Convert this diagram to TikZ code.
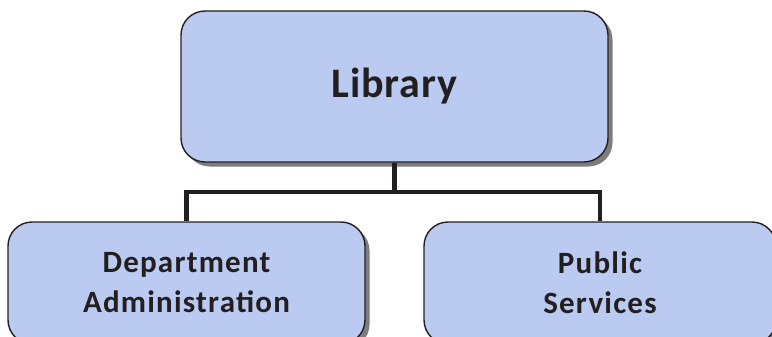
\documentclass[tikz,border=0pt]{standalone}
\usepackage{fontspec}
\setmainfont{Carlito}
\usepackage{xcolor}
\usetikzlibrary{positioning, shadows}

\definecolor{boxblue}{RGB}{186,202,240}
\definecolor{inkdark}{RGB}{35,31,32}
\definecolor{shadowgray}{RGB}{125,125,125}

\begin{document}
\begin{tikzpicture}[x=1pt, y=-1pt,
    orgbox/.style={draw=inkdark, line width=1.4pt, fill=boxblue, rounded corners=24pt,
        align=center, text=inkdark,
        drop shadow={shadow xshift=4.5pt, shadow yshift=-4.5pt, fill=shadowgray, opacity=1}},
    toptext/.style={font=\fontsize{42}{50}\selectfont\bfseries\addfontfeature{LetterSpace=2}},
    subtext/.style={font=\fontsize{31}{40}\selectfont\bfseries\addfontfeature{LetterSpace=4}},
    branch/.style={draw=inkdark, line width=4.5pt}]

\clip (0,0) rectangle (772,337);

% Top of the chart
\node[orgbox, toptext, minimum width=427pt, minimum height=151pt] (lib) at (394.5,86.5) {Library};

% Two departments
\node[orgbox, subtext, minimum width=357pt, minimum height=122pt] (dept) at (186.5,283) {Department\\Administration};
\node[orgbox, subtext, minimum width=352pt, minimum height=122pt] (pub) at (600,283) {Public\\Services};

% Connectors
\coordinate (split) at (394.5,192);
\draw[branch] (lib.south) -- (split);
\draw[branch] (dept.north) |- (split) -| (pub.north);

\end{tikzpicture}
\end{document}
